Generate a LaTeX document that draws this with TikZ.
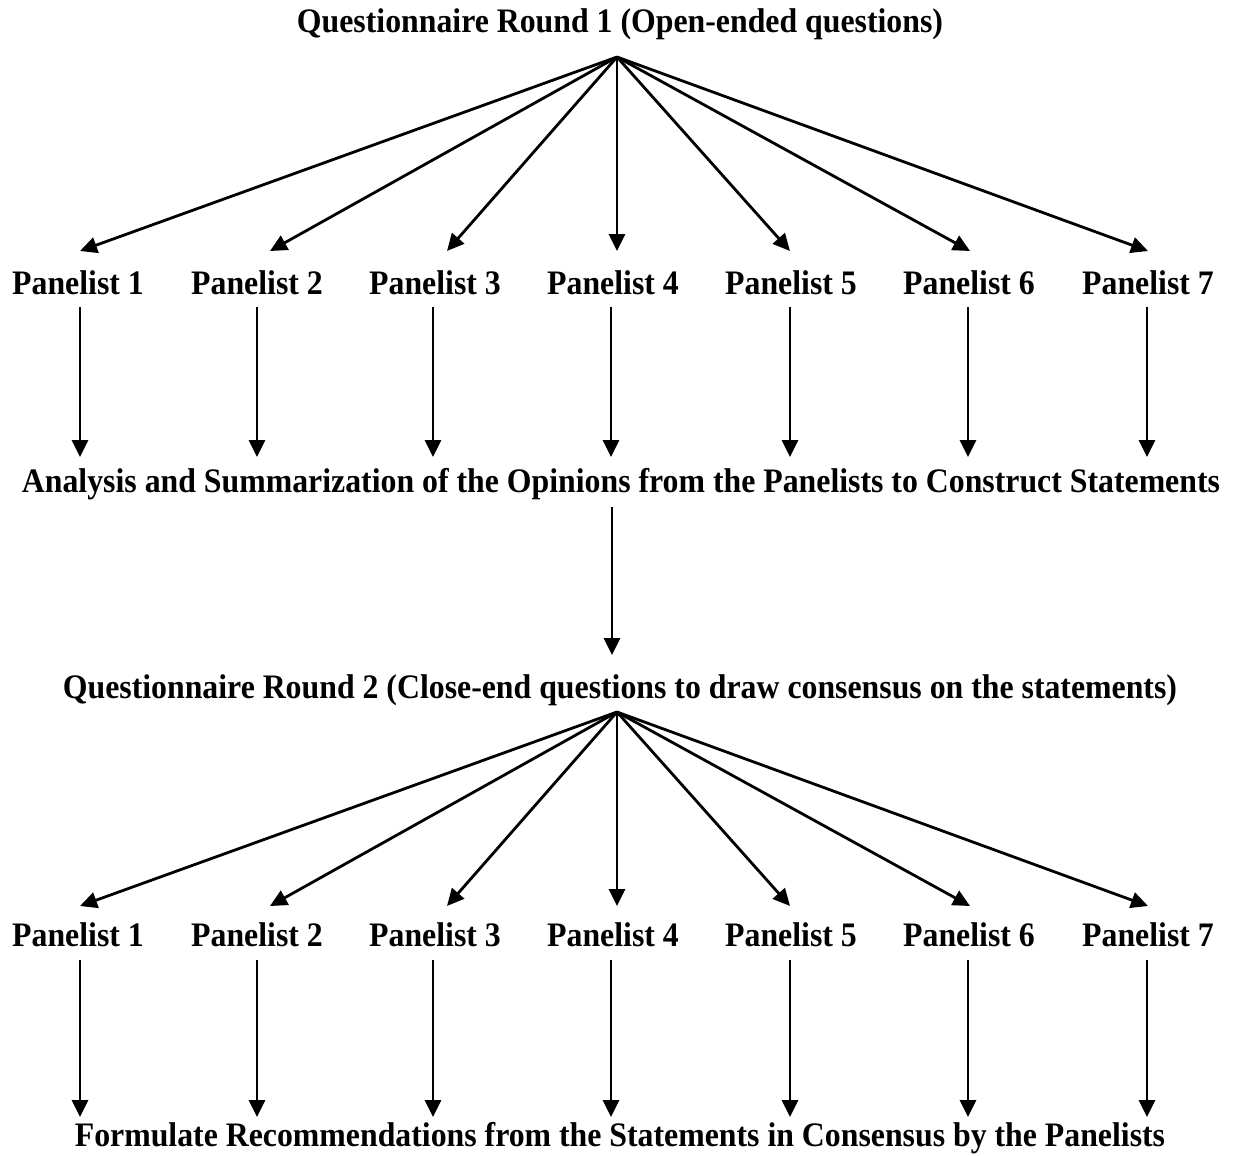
\documentclass[tikz,border=0pt]{standalone}
\usepackage{fontspec}
\setmainfont{Liberation Serif}
\usetikzlibrary{arrows.meta}
\newcommand{\tallbf}[1]{\scalebox{1}[1.08]{#1}}
\begin{document}
\begin{tikzpicture}[x=1pt,y=-1pt,
  lbl/.style={font=\fontsize{31.8}{36}\selectfont\bfseries, inner sep=0pt, anchor=base},
  arr/.style={line width=2.8pt, -{Triangle[length=17pt,width=16pt]}}]
\useasboundingbox (0,0) rectangle (1235,1156);
% first round
\node[lbl] (q1) at (620,33) {\tallbf{Questionnaire Round 1 (Open-ended questions)}};
\coordinate (a1) at (617,57);
\foreach \i/\x/\t in {1/78/80,2/257/270,3/435/447,4/613/617,5/791/790,6/969/970,7/1148/1148}{
  \node[lbl] (p\i) at (\x,294) {\tallbf{Panelist \i}};
  \coordinate (t\i) at (\t,251);
}
\node[lbl] (an) at (621,492) {\tallbf{Analysis and Summarization of the Opinions from the Panelists to Construct Statements}};
\foreach \i/\x in {1/80,2/257,3/433,4/611,5/790,6/968,7/1147}{
  \coordinate (u\i) at (\x,307);
  \coordinate (d\i) at (\x,457);
  \draw[arr] (a1) -- (t\i);
  \draw[arr] (u\i) -- (d\i);
}
% second round
\coordinate (m1) at (612,507);
\coordinate (m2) at (612,655);
\draw[arr] (m1) -- (m2);
\node[lbl] (q2) at (620,698) {\tallbf{Questionnaire Round 2 (Close-end questions to draw consensus on the statements)}};
\coordinate (a2) at (617,712);
\foreach \i/\x/\t in {1/78/80,2/257/270,3/435/447,4/613/617,5/791/790,6/969/970,7/1148/1148}{
  \node[lbl] (r\i) at (\x,946) {\tallbf{Panelist \i}};
  \coordinate (s\i) at (\t,906);
}
\node[lbl] (fr) at (620,1146) {\tallbf{Formulate Recommendations from the Statements in Consensus by the Panelists}};
\foreach \i/\x in {1/80,2/257,3/433,4/611,5/790,6/968,7/1147}{
  \coordinate (v\i) at (\x,960);
  \coordinate (e\i) at (\x,1117);
  \draw[arr] (a2) -- (s\i);
  \draw[arr] (v\i) -- (e\i);
}
\end{tikzpicture}
\end{document}
